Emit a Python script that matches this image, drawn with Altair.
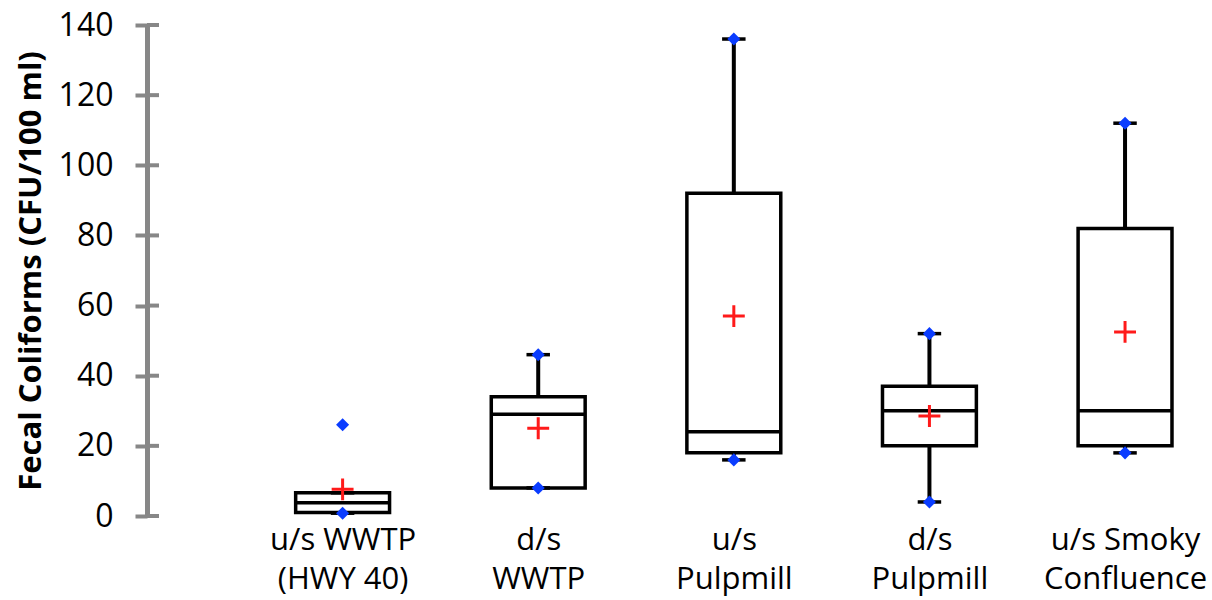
import json
import altair as alt
import pandas as pd

# ---- data ----
categories = ["u/s WWTP|(HWY 40)", "d/s|WWTP", "u/s|Pulpmill", "d/s|Pulpmill", "u/s Smoky|Confluence"]
positions = [1, 2, 3, 4, 5]
q1 = [1.0, 8.0, 18.0, 20.0, 20.0]
median = [3.8, 29.0, 24.0, 30.0, 30.0]
q3 = [6.6, 34.0, 92.0, 37.0, 82.0]
whisk_lo = [0.8, 8.0, 16.0, 4.0, 18.0]
whisk_hi = [6.6, 46.0, 136.0, 52.0, 112.0]
mean = [7.6, 25.0, 57.0, 28.5, 52.5]
min_pt = [0.8, 8.0, 16.0, 4.0, 18.0]
max_pt = [26.0, 46.0, 136.0, 52.0, 112.0]
y_ticks = [0, 20, 40, 60, 80, 100, 120, 140]

FONT = "Open Sans"
AXIS_GREY = "#878787"

df = pd.DataFrame({
    "pos": positions, "cat": categories, "q1": q1, "median": median, "q3": q3,
    "wlo": whisk_lo, "whi": whisk_hi, "mean": mean, "mn": min_pt, "mx": max_pt,
})
ticks_df = pd.DataFrame({"v": y_ticks})

label_lists = [c.split("|") for c in categories]
label_expr = json.dumps(label_lists) + "[datum.value - 1]"

xscale = alt.Scale(domain=[0, 5.419], nice=False, zero=False)
yscale = alt.Scale(domain=[0, 140], nice=False)

x_axis = alt.Axis(
    values=positions, labelExpr=label_expr, title=None, domain=False, ticks=False,
    grid=False, labelFont=FONT, labelFontSize=31, labelColor="#000000",
    labelLineHeight=39, labelPadding=9, labelOverlap=False, labelFlush=False,
    labelBaseline="top",
)
y_axis = alt.Axis(
    values=y_ticks, title="Fecal Coliforms (CFU/100 ml)", grid=False,
    domainColor=AXIS_GREY, domainWidth=5, tickColor=AXIS_GREY, tickWidth=4, tickSize=12,
    labelFont=FONT, labelFontSize=32, labelColor="#000000", labelPadding=22,
    titleFont=FONT, titleFontSize=31, titleFontWeight="bold", titleColor="#000000",
    titleX=-116, titleBaseline="middle",
)

base = alt.Chart(df)

box = base.transform_calculate(
    xl="datum.pos - 0.24", xr="datum.pos + 0.24"
).mark_rect(fill="white", stroke="black", strokeWidth=3.5).encode(
    x=alt.X("xl:Q", scale=xscale, axis=x_axis),
    x2="xr:Q",
    y=alt.Y("q1:Q", scale=yscale, axis=y_axis),
    y2="q3:Q",
)

med = base.transform_calculate(
    xl="datum.pos - 0.24", xr="datum.pos + 0.24"
).mark_rule(color="black", strokeWidth=3.5).encode(
    x=alt.X("xl:Q", scale=xscale), x2="xr:Q", y=alt.Y("median:Q", scale=yscale)
)

whisk_up = base.mark_rule(color="black", strokeWidth=4).encode(
    x=alt.X("pos:Q", scale=xscale), y=alt.Y("q3:Q", scale=yscale), y2="whi:Q"
)
whisk_dn = base.mark_rule(color="black", strokeWidth=4).encode(
    x=alt.X("pos:Q", scale=xscale), y=alt.Y("q1:Q", scale=yscale), y2="wlo:Q"
)

cap_hi = base.transform_calculate(
    xl="datum.pos - 0.06", xr="datum.pos + 0.06"
).mark_rule(color="black", strokeWidth=3.5).encode(
    x=alt.X("xl:Q", scale=xscale), x2="xr:Q", y=alt.Y("whi:Q", scale=yscale)
)
cap_lo = base.transform_calculate(
    xl="datum.pos - 0.06", xr="datum.pos + 0.06"
).mark_rule(color="black", strokeWidth=3.5).encode(
    x=alt.X("xl:Q", scale=xscale), x2="xr:Q", y=alt.Y("wlo:Q", scale=yscale)
)

dots_max = base.mark_point(shape="diamond", filled=True, color="#0a3cff", size=170, opacity=1).encode(
    x=alt.X("pos:Q", scale=xscale), y=alt.Y("mx:Q", scale=yscale)
)
dots_min = base.mark_point(shape="diamond", filled=True, color="#0a3cff", size=170, opacity=1).encode(
    x=alt.X("pos:Q", scale=xscale), y=alt.Y("mn:Q", scale=yscale)
)

mean_mark = base.mark_point(
    shape="M-1,0L1,0M0,-1L0,1", filled=False, color="#ff1a1a", strokeWidth=3, size=480, opacity=1
).encode(x=alt.X("pos:Q", scale=xscale), y=alt.Y("mean:Q", scale=yscale))

inner_ticks = alt.Chart(ticks_df).mark_rule(color=AXIS_GREY, strokeWidth=4).encode(
    x=alt.value(0), x2=alt.value(12), y=alt.Y("v:Q", scale=yscale)
)

chart = alt.layer(
    box, med, whisk_up, whisk_dn, cap_hi, cap_lo, inner_ticks, dots_max, dots_min, mean_mark
).properties(
    width=1060, height=491,
    background="white",
    autosize=alt.AutoSizeParams(type="none"),
    padding={"left": 147, "top": 25, "right": 5, "bottom": 84},
).configure_view(stroke="transparent", strokeWidth=0)

chart.save("out.html", embed_options={"renderer": "svg", "actions": False})
